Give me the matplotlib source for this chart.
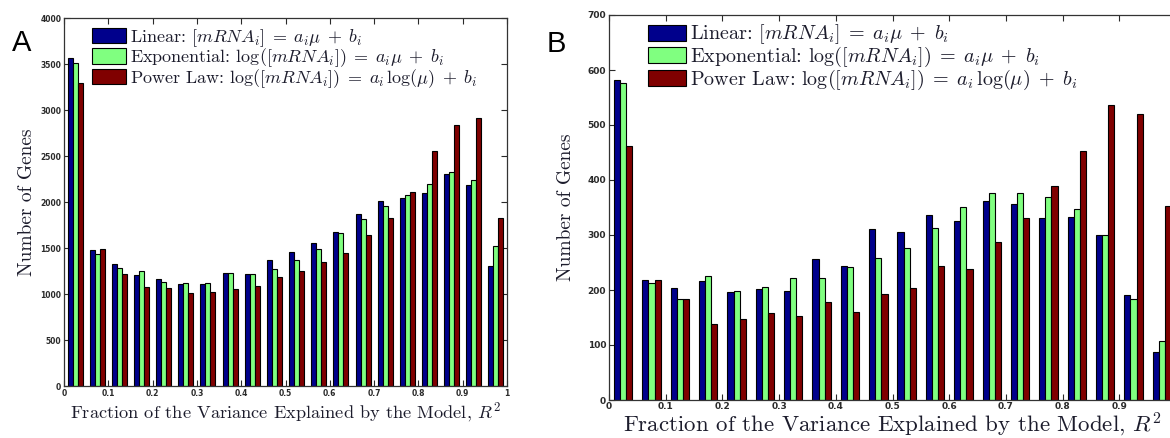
import matplotlib
matplotlib.use("Agg")
import matplotlib.pyplot as plt

# R^2 histogram bins (centres of 0.05-wide bins)
r2_bins = [0.025, 0.075, 0.125, 0.175, 0.225, 0.275, 0.325, 0.375, 0.425, 0.475,
           0.525, 0.575, 0.625, 0.675, 0.725, 0.775, 0.825, 0.875, 0.925, 0.975]

# Panel A: gene counts per R^2 bin
linear_a = [3560, 1473, 1324, 1207, 1167, 1105, 1105, 1225, 1215, 1367,
            1460, 1556, 1676, 1873, 2008, 2045, 2093, 2303, 2183, 1309]
exponential_a = [3510, 1436, 1280, 1251, 1131, 1124, 1120, 1225, 1215, 1269,
                 1375, 1487, 1662, 1815, 1957, 2074, 2194, 2322, 2238, 1520]
power_a = [3290, 1487, 1218, 1080, 1062, 1015, 1025, 1051, 1087, 1180,
           1251, 1349, 1444, 1640, 1831, 2114, 2558, 2838, 2915, 1825]

# Panel B: gene counts per R^2 bin
linear_b = [582, 218, 203, 216, 197, 202, 199, 257, 244, 311,
            306, 337, 325, 362, 356, 331, 333, 300, 191, 87]
exponential_b = [576, 212, 184, 226, 199, 205, 222, 222, 242, 258,
                 277, 312, 350, 377, 377, 369, 348, 300, 184, 108]
power_b = [462, 218, 184, 138, 148, 158, 152, 179, 160, 193,
           204, 244, 238, 288, 331, 389, 453, 536, 520, 352]

x_ticks = [0.0, 0.1, 0.2, 0.3, 0.4, 0.5, 0.6, 0.7, 0.8, 0.9, 1.0]
x_tick_labels_a = ["0", "0.1", "0.2", "0.3", "0.4", "0.5", "0.6", "0.7", "0.8", "0.9", "1"]
x_tick_labels_b = ["0", "0.1", "0.2", "0.3", "0.4", "0.5", "0.6", "0.7", "0.8", "0.9", ""]
y_ticks_a = [0, 500, 1000, 1500, 2000, 2500, 3000, 3500, 4000]
y_ticks_b = [0, 100, 200, 300, 400, 500, 600, 700]

legend_labels = [
    r"Linear: $[mRNA_i] \;=\; a_i\mu \;+\; b_i$",
    r"Exponential: $\log([mRNA_i]) \;=\; a_i\mu \;+\; b_i$",
    r"Power Law: $\log([mRNA_i]) \;=\; a_i\,\log(\mu) \;+\; b_i$",
]
colors = ["#00008c", "#80ff80", "#800000"]

plt.rcParams["mathtext.fontset"] = "cm"
serif = "cmr10"
text_color = "#1c1c2c"

W, H = 1170, 438
fig = plt.figure(figsize=(W / 100, H / 100), dpi=100)
fig.patch.set_facecolor("white")


def px_axes(left, top, right, bottom):
    return fig.add_axes([left / W, 1 - bottom / H, (right - left) / W, (bottom - top) / H])


def draw_panel(ax, series, ylim, yticks, xticklabels, bar_w, tick_fs, xtick_pad,
               xlabel_fs, ylabel_fs, ylabelpad, legend_fs, legend_anchor,
               labelspacing, handleheight, xlabelpad):
    offsets = [-bar_w, 0.0, bar_w]
    handles = []
    for vals, col, off, lab in zip(series, colors, offsets, legend_labels):
        h = ax.bar([c + off for c in r2_bins], vals, width=bar_w, color=col,
                   edgecolor="black", linewidth=0.8, label=lab, zorder=2)
        handles.append(h)
    ax.set_xlim(0, 1)
    ax.set_ylim(*ylim)
    ax.set_xticks(x_ticks)
    ax.set_xticklabels(xticklabels)
    ax.set_yticks(yticks)
    ax.set_yticklabels([str(t) for t in yticks])
    ax.tick_params(direction="in", top=True, right=True, length=4, width=0.8,
                   labelsize=tick_fs, colors="#2a2a2a", pad=2)
    ax.tick_params(axis="x", pad=xtick_pad)
    for lab in ax.get_xticklabels() + ax.get_yticklabels():
        lab.set_family("DejaVu Sans")
        lab.set_weight("bold")
    for sp in ax.spines.values():
        sp.set_linewidth(0.9)
        sp.set_color("#333333")
    ax.set_xlabel(r"Fraction of the Variance Explained by the Model, $R^2$",
                  family=serif, fontsize=xlabel_fs, color=text_color, labelpad=xlabelpad)
    ax.set_ylabel("Number of Genes", family=serif, fontsize=ylabel_fs,
                  color=text_color, labelpad=ylabelpad)
    leg = ax.legend(handles=handles, loc="upper left", bbox_to_anchor=legend_anchor,
                    frameon=False, handlelength=1.9, handleheight=handleheight,
                    handletextpad=0.2, labelspacing=labelspacing,
                    borderaxespad=0, borderpad=0,
                    prop={"family": serif, "size": legend_fs})
    for t in leg.get_texts():
        t.set_color(text_color)
    return leg


ax_a = px_axes(64, 18, 507, 386)
draw_panel(ax_a, [linear_a, exponential_a, power_a], (0, 4000), y_ticks_a,
           x_tick_labels_a, 0.0113, 5.5, 2, 13.2, 14, 3, 13, (0.063, 0.976), -0.12,
           0.95, 2)

ax_b = px_axes(609, 15, 1176, 400)
draw_panel(ax_b, [linear_b, exponential_b, power_b], (0, 700), y_ticks_b,
           x_tick_labels_b, 0.0108, 6.5, 1.5, 16.5, 14, 9, 14.5, (0.069, 0.98), -0.07,
           0.85, 0)

fig.text(12 / W, 1 - 51 / H, "A", family="Liberation Sans", fontsize=21, color="black")
fig.text(547 / W, 1 - 52 / H, "B", family="Liberation Sans", fontsize=21, color="black")

fig.savefig("out.png", dpi=100, facecolor="white")
